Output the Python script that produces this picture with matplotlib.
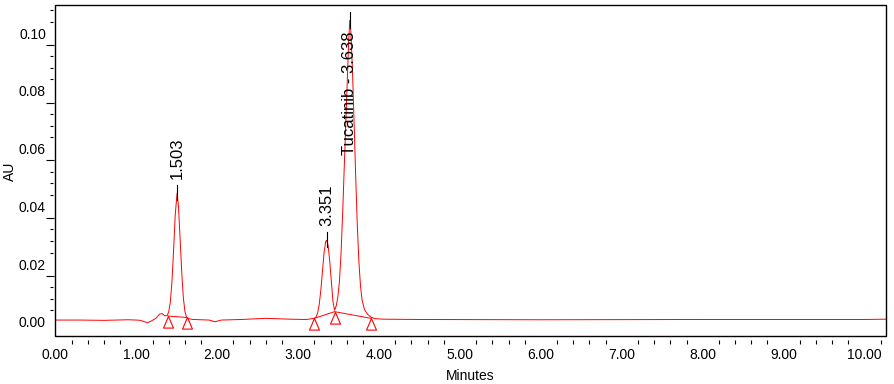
import matplotlib
matplotlib.use("Agg")
import matplotlib.pyplot as plt
import numpy as np
from matplotlib.ticker import FixedLocator, FormatStrFormatter
from matplotlib.markers import TICKLEFT
from matplotlib.transforms import ScaledTranslation
from matplotlib.patches import Rectangle
from matplotlib.path import Path

plt.rcParams['font.family'] = ['Liberation Sans', 'DejaVu Sans']

# chromatogram trace (minutes, AU)
minutes = [0.00, 0.30, 0.60, 0.90, 1.00, 1.05, 1.10, 1.14, 1.18, 1.24, 1.29, 1.32, 1.35,
           1.38, 1.40, 1.42, 1.44, 1.46, 1.48, 1.503, 1.52, 1.54, 1.56, 1.58, 1.60, 1.62, 1.64,
           1.70, 1.80, 1.90, 1.97, 2.05, 2.30, 2.60, 2.90, 3.10, 3.20,
           3.22, 3.24, 3.26, 3.28, 3.30, 3.32, 3.34, 3.351, 3.37, 3.39, 3.41, 3.43, 3.45,
           3.47, 3.49, 3.51, 3.53, 3.55, 3.57, 3.59, 3.61, 3.625, 3.638, 3.65, 3.67, 3.69,
           3.71, 3.73, 3.75, 3.77, 3.79, 3.82, 3.86, 3.90, 3.95, 4.05, 4.50, 6.00, 8.00,
           10.00, 10.26]
au = [0.0006, 0.0006, 0.0005, 0.0007, 0.0006, 0.0005, 0.0000, -0.0003, 0.0002, 0.0012, 0.0027, 0.0028, 0.0021,
      0.0021, 0.0035, 0.0070, 0.0140, 0.0250, 0.0370, 0.0446, 0.0400, 0.0290, 0.0175, 0.0085, 0.0035, 0.0016, 0.0011,
      0.0008, 0.0007, 0.0006, 0.0000, 0.0006, 0.0008, 0.0012, 0.0009, 0.0008, 0.0012,
      0.0016, 0.0030, 0.0060, 0.0110, 0.0175, 0.0240, 0.0278, 0.0283, 0.0265, 0.0210, 0.0140, 0.0070, 0.0040,
      0.0055, 0.0085, 0.0140, 0.0240, 0.0380, 0.0540, 0.0700, 0.0860, 0.0980, 0.1045, 0.1010, 0.0880, 0.0700,
      0.0510, 0.0340, 0.0210, 0.0125, 0.0075, 0.0042, 0.0025, 0.0016, 0.0011, 0.0009, 0.0008, 0.0007, 0.0008,
      0.0008, 0.0009]

# integration start/end points (triangles) and baselines
int_t = [1.39, 1.62, 3.20, 3.45, 3.90]
int_au = [0.0020, 0.0015, 0.0012, 0.0035, 0.0012]
baselines = [(0, 1), (2, 3), (3, 4)]

# peak labels
peak_rt = [1.503, 3.351, 3.638]
peak_top = [0.0446, 0.0283, 0.1045]
peak_names = ['1.503', '3.351', 'Tucatinib - 3.638']

fig = plt.figure(figsize=(8.95, 3.84), dpi=100)
ax = fig.add_axes([0.062, 0.1237, 0.9274, 0.8625])

ax.plot(minutes, au, color='#ff0000', lw=0.7)

for i, j in baselines:
    ax.plot([int_t[i], int_t[j]], [int_au[i], int_au[j]], color='#ff0000', lw=0.7)

tri = Path([(0, 0), (-0.43, -1), (0.43, -1), (0, 0)], closed=True)
ax.plot(int_t, int_au, ls='none', marker=tri, ms=16.7, mfc='none', mec='#ff0000', mew=0.8)

for rt, top, name in zip(peak_rt, peak_top, peak_names):
    ax.plot([rt, rt], [top - 0.0025, top + 0.0028], color='black', lw=0.8)
    if top > 0.09:
        ax.text(rt, 0.1005, name, rotation=90, ha='center', va='top', fontsize=12)
    else:
        ax.text(rt, top + 0.005, name, rotation=90, ha='center', va='bottom', fontsize=12)

ax.set_xlim(0, 10.26)
ax.set_ylim(-0.0051, 0.1097)

# frame drawn separately so the ticks can sit slightly off the box
for s in ax.spines.values():
    s.set_visible(False)
ax.spines['bottom'].set_position(('outward', 2.5))
ax.spines['left'].set_position(('outward', 1.5))
ax.add_patch(Rectangle((0, 0), 1, 1, transform=ax.transAxes, fill=False,
                       lw=1.0, ec='black', clip_on=False, zorder=5))

ax.xaxis.set_major_locator(FixedLocator(range(0, 11)))
ax.xaxis.set_major_formatter(FormatStrFormatter('%.2f'))
ax.xaxis.set_minor_locator(FixedLocator([i * 0.2 for i in range(52) if i % 5 != 0]))
ax.tick_params(axis='x', which='major', length=0, pad=6, labelsize=10)
ax.tick_params(axis='x', which='minor', length=2.9, width=0.8, direction='out')

ax.yaxis.set_major_locator(FixedLocator([0.00, 0.02, 0.04, 0.06, 0.08, 0.10]))
ax.yaxis.set_major_formatter(FormatStrFormatter('%.2f'))
y_minor = [i * 0.004 for i in range(-1, 28) if i % 5 != 0 and i % 5 != 4]
ax.yaxis.set_minor_locator(FixedLocator(y_minor))
ax.tick_params(axis='y', which='major', length=0, pad=5.4, labelsize=10)
ax.tick_params(axis='y', which='minor', length=2.4, width=0.8, direction='out')

y_long = [0.016, 0.036, 0.056, 0.076, 0.096]
ax.plot(np.zeros(len(y_long)), y_long, ls='none', marker=TICKLEFT, ms=5.8, mew=0.8,
        color='black', clip_on=False,
        transform=ax.get_yaxis_transform() + ScaledTranslation(-0.015, 0, fig.dpi_scale_trans))

ax.set_xlabel('Minutes', fontsize=10, labelpad=4.5)
ax.set_ylabel('AU', fontsize=10)
ax.yaxis.set_label_coords(-0.047, 0.5)

fig.savefig('out.png', dpi=100)
